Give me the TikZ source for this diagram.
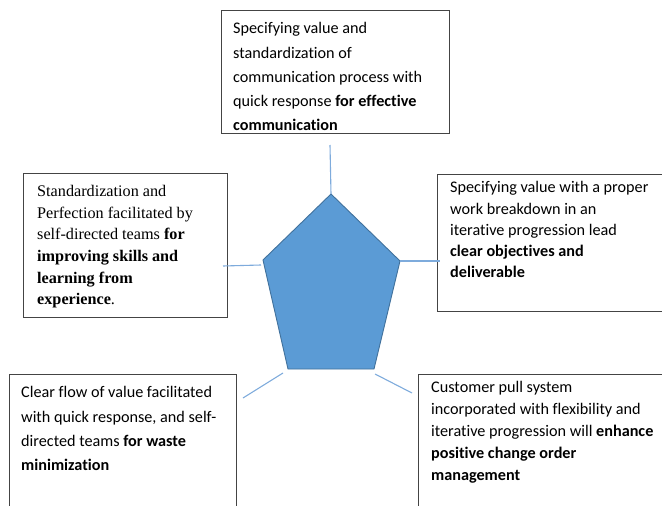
\documentclass[tikz,border=0pt]{standalone}
\usepackage{fontspec}
\setmainfont[Ligatures={NoCommon}]{Carlito}
\newfontfamily\timesfont{Liberation Serif}
\definecolor{pentfill}{HTML}{5B9BD5}
\definecolor{pentedge}{HTML}{41719C}
\definecolor{linkblue}{HTML}{7EABDC}
\definecolor{boxgray}{HTML}{444444}

\begin{document}
\begin{tikzpicture}[x=1pt, y=-1pt,
    box/.style={draw=boxgray, line width=1.1pt, inner sep=0pt, anchor=north west},
    txt/.style={anchor=north west, inner sep=0pt, align=left},
    link/.style={draw=linkblue, line width=1.1pt}]
    \clip (0, 0) rectangle (662, 506);
    % the five boxes
    \node[box, minimum width=228pt, minimum height=123pt] (topbox) at (221, 10) {};
    \node[box, minimum width=204pt, minimum height=144pt] (leftbox) at (23, 173) {};
    \node[box, minimum width=240pt, minimum height=137pt] (rightbox) at (437, 174) {};
    \node[box, minimum width=227pt, minimum height=150pt] (blbox) at (9, 374) {};
    \node[box, minimum width=260pt, minimum height=150pt] (brbox) at (418, 374) {};
    % texts
    \node[txt, font=\fontsize{16.2}{24.3}\selectfont] (toptext) at (233, 22.3) {Specifying value and\\
      standardization of\\
      communication process with\\
      quick response \textbf{for effective}\\
      \textbf{communication}};
    \node[txt, font=\timesfont\fontsize{16.2}{21.7}\selectfont] (lefttext) at (37, 185) {Standardization and\\
      Perfection facilitated by\\
      self-directed teams \textbf{for}\\
      \textbf{improving skills and}\\
      \textbf{learning from}\\
      \textbf{experience}.};
    \node[txt, font=\fontsize{16.2}{21.3}\selectfont] (righttext) at (450, 181.3) {Specifying value with a proper\\
      work breakdown in an\\
      iterative progression lead\\
      \textbf{clear objectives and}\\
      \textbf{deliverable}};
    \node[txt, font=\fontsize{16.2}{24.3}\selectfont] (bltext) at (21, 386.3) {Clear flow of value facilitated\\
      with quick response, and self-\\
      directed teams \textbf{for waste}\\
      \textbf{minimization}};
    \node[txt, font=\fontsize{16.2}{22}\selectfont] (brtext) at (431, 381.3) {Customer pull system\\
      incorporated with flexibility and\\
      iterative progression will \textbf{enhance}\\
      \textbf{positive change order}\\
      \textbf{management}};
    % pentagon
    \coordinate (ptop) at (331, 194);
    \coordinate (pright) at (400, 261);
    \coordinate (pbr) at (374, 369);
    \coordinate (pbl) at (288, 369);
    \coordinate (pleft) at (263, 260);
    \draw[fill=pentfill, draw=pentedge, line width=0.9pt, line join=round]
      (ptop) -- (pright) -- (pbr) -- (pbl) -- (pleft) -- cycle;
    % connectors
    \coordinate (topend) at (330, 145);
    \coordinate (leftend) at (223, 266);
    \coordinate (leftstart) at (261, 265);
    \coordinate (blstart) at (283, 373);
    \coordinate (blend) at (243, 398);
    \coordinate (brstart) at (375, 374);
    \coordinate (brend) at (412, 393);
    \draw[link] (topend) -- (ptop);
    \draw[link] (leftstart) -- (leftend);
    \draw[link] (pright) -- ([xshift=3pt]rightbox.west |- pright);
    \draw[link] (blstart) -- (blend);
    \draw[link] (brstart) -- (brend);
\end{tikzpicture}
\end{document}
